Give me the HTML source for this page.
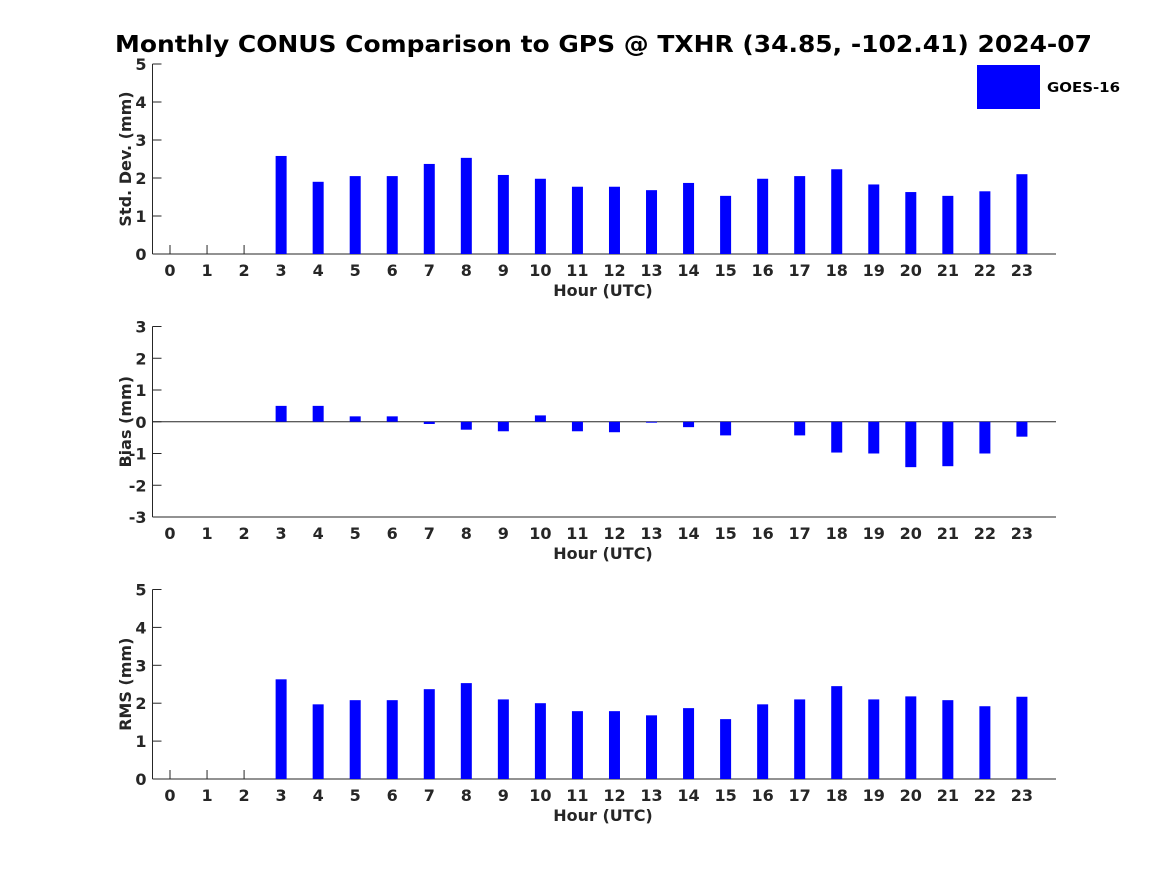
<!DOCTYPE html>
<html><head><meta charset="utf-8"><style>
body{margin:0;background:#fff;}
svg{display:block;font-family:"DejaVu Sans","Liberation Sans",sans-serif;font-weight:bold;}
</style></head><body>
<svg id="c" width="1167" height="875" viewBox="0 0 1167 875">
<text x="115" y="52" font-size="23" fill="#000" textLength="977" lengthAdjust="spacingAndGlyphs">Monthly CONUS Comparison to GPS @ TXHR (34.85, -102.41) 2024-07</text>
<rect x="977" y="65" width="63" height="44" fill="#0000ff"/>
<text x="1047" y="92" font-size="13" fill="#000" textLength="73" lengthAdjust="spacingAndGlyphs">GOES-16</text>
</svg>
<script>
const hours=[0,1,2,3,4,5,6,7,8,9,10,11,12,13,14,15,16,17,18,19,20,21,22,23];
const stdVals=[null,null,null,2.58,1.9,2.05,2.05,2.37,2.53,2.08,1.98,1.77,1.77,1.68,1.87,1.53,1.98,2.05,2.23,1.83,1.63,1.53,1.65,2.1];
const biasVals=[null,null,null,0.5,0.5,0.17,0.17,-0.07,-0.25,-0.3,0.2,-0.3,-0.33,-0.03,-0.17,-0.43,null,-0.43,-0.97,-1.0,-1.43,-1.4,-1.0,-0.47];
const rmsVals=[null,null,null,2.63,1.97,2.08,2.08,2.37,2.53,2.1,2.0,1.79,1.79,1.68,1.87,1.58,1.97,2.1,2.45,2.1,2.18,2.08,1.92,2.17];
const stdTicks=[0,1,2,3,4,5];
const biasTicks=[-3,-2,-1,0,1,2,3];
const rmsTicks=[0,1,2,3,4,5];
const NS='http://www.w3.org/2000/svg';
const svg=document.getElementById('c');
function mk(t,a,txt){const e=document.createElementNS(NS,t);for(const k in a)e.setAttribute(k,a[k]);if(txt!==undefined)e.textContent=txt;svg.appendChild(e);return e;}
const X0=152.5,X1=1056;
function xs(h){return 170+h*37.04;}
function panel(name,vals,ticks,top,bottom,ylabel,zeroLine){
  const lo=ticks[0],hi=ticks[ticks.length-1];
  const ys=v=>bottom-(v-lo)/(hi-lo)*(bottom-top);
  let e=mk('line',{x1:X0,y1:top,x2:X0,y2:bottom,stroke:'#262626','stroke-width':1});
  
  e=mk('line',{x1:X0,y1:bottom,x2:X1,y2:bottom,stroke:'#262626','stroke-width':1});
  
  ticks.forEach(t=>{
    const y=ys(t);
    let l=mk('line',{x1:X0,y1:y,x2:X0+9,y2:y,stroke:'#262626'});
    
    let tx=mk('text',{x:X0-6,y:y+6,'text-anchor':'end','font-size':16,fill:'#262626'},String(t));
    
  });
  const y0=ys(0);
  if(zeroLine){e=mk('line',{x1:X0,y1:y0,x2:X1,y2:y0,stroke:'#262626'});
    }
  hours.forEach((h,i)=>{
    const x=xs(h);
    if(!zeroLine){let l=mk('line',{x1:x,y1:bottom,x2:x,y2:bottom-9,stroke:'#262626'});
      }
    let tx=mk('text',{x:x,y:bottom+22,'text-anchor':'middle','font-size':16,fill:'#262626'},String(h));
    
    const v=vals[i];
    if(v!==null){const ya=ys(v);
      let r=mk('rect',{x:x-5.5,y:Math.min(ya,y0),width:11,height:Math.abs(ya-y0),fill:'#0000ff'});
      }
  });
  let t=mk('text',{x:603,y:bottom+42,'text-anchor':'middle','font-size':16,fill:'#262626'},'Hour (UTC)');
  
  const cy=(top+bottom)/2;
  t=mk('text',{x:131,y:cy,'text-anchor':'middle','font-size':16,fill:'#262626',transform:'rotate(-90 131 '+cy+')'},ylabel);
  
}
panel('std',stdVals,stdTicks,64,254,'Std. Dev. (mm)',false);
panel('bias',biasVals,biasTicks,326.5,517,'Bias (mm)',true);
panel('rms',rmsVals,rmsTicks,589.5,779,'RMS (mm)',false);
</script>
</body></html>
